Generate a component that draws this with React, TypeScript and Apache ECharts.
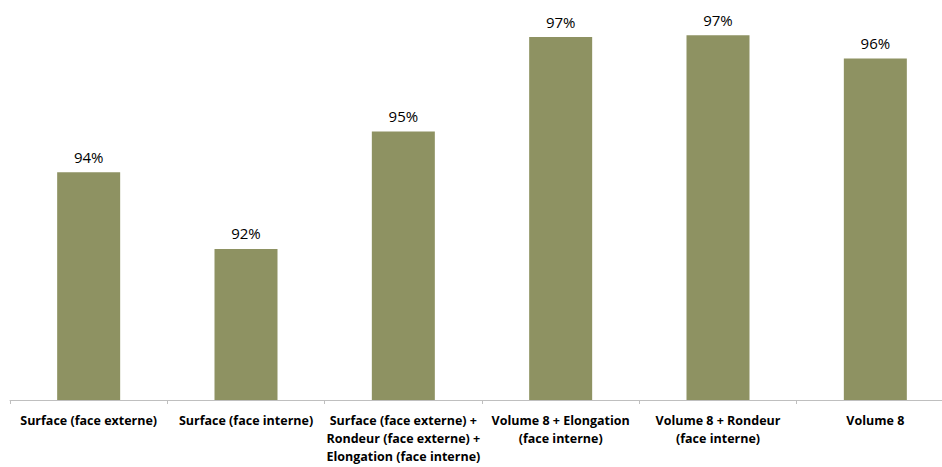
import React, { useEffect, useRef } from "react";
import * as echarts from "echarts";

const categories = [
  "Surface (face externe)",
  "Surface (face interne)",
  "Surface (face externe) +\nRondeur (face externe) +\nElongation (face interne)",
  "Volume 8 + Elongation\n(face interne)",
  "Volume 8 + Rondeur\n(face interne)",
  "Volume 8",
];
const values = [93.9, 92.25, 94.78, 96.81, 96.85, 96.35];

export default function App() {
  const ref = useRef<HTMLDivElement>(null);
  useEffect(() => {
    const chart = echarts.init(ref.current!, null, { renderer: "svg" });
    chart.setOption({
      animation: false,
      grid: { left: 10, top: 5, bottom: 67, right: -12, outerBoundsMode: "none" },
      xAxis: {
        type: "category",
        data: categories,
        axisLine: { lineStyle: { color: "#BFBFBF", width: 1 } },
        axisTick: { show: true, length: 4, lineStyle: { color: "#BFBFBF" } },
        axisLabel: {
          interval: 0,
          color: "#000",
          fontWeight: "bold",
          fontSize: 12.5,
          fontFamily: "Open Sans",
          lineHeight: 18,
          margin: 11,
        },
      },
      yAxis: {
        type: "value",
        min: 89,
        max: 97.5,
        show: false,
        splitLine: { show: false },
      },
      series: [
        {
          type: "bar",
          data: values,
          barWidth: 63,
          itemStyle: { color: "#8E9262" },
          label: {
            show: true,
            position: "top",
            distance: 8,
            color: "#000",
            fontSize: 15,
            fontFamily: "Open Sans",
            formatter: (p: any) => Math.round(p.value) + "%",
          },
        },
      ],
    });
    return () => chart.dispose();
  }, []);
  return <div ref={ref} style={{ width: 942, height: 467, position: "absolute", left: 0, top: 0 }} />;
}
